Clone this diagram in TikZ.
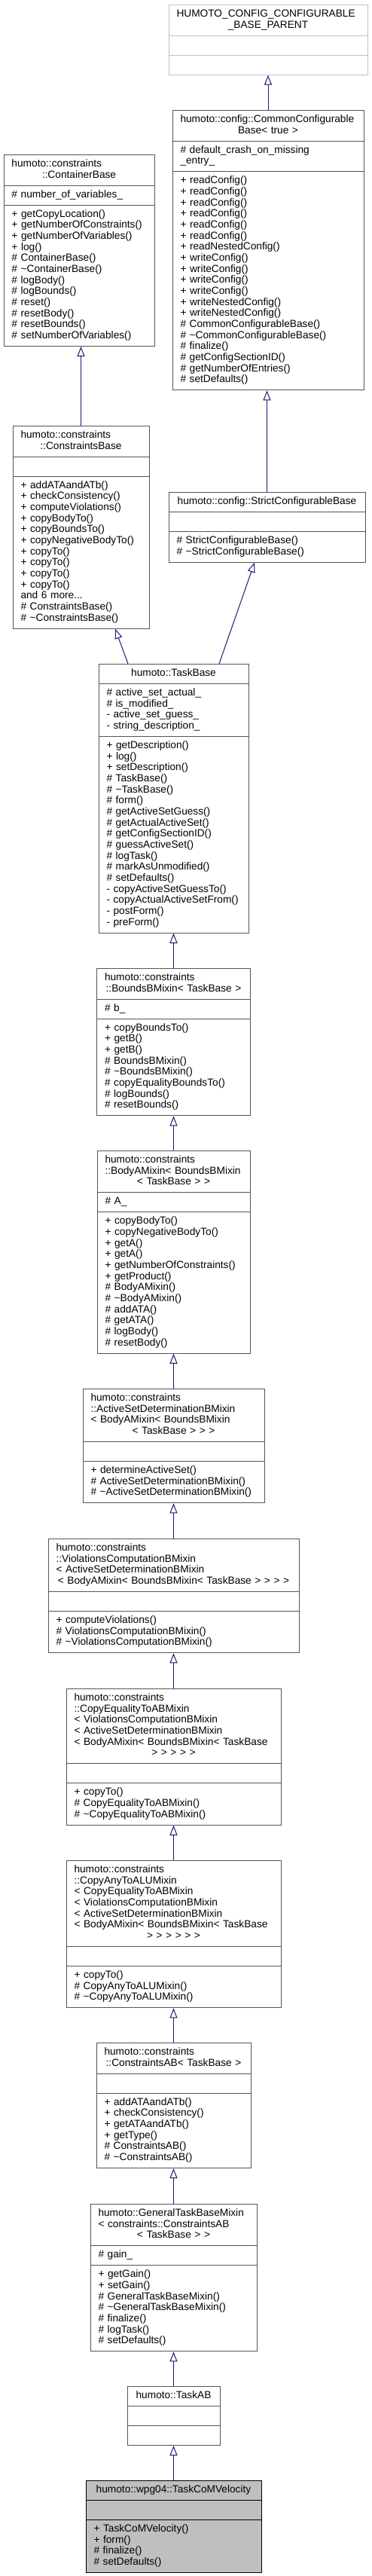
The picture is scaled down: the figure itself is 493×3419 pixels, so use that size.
\documentclass[tikz,border=0pt]{standalone}
\usepackage{fontspec}
\setmainfont{Liberation Sans}
\usepackage{tikz}
\usetikzlibrary{arrows.meta,shapes.multipart}
\usepackage{xcolor}
\definecolor{edgeblue}{HTML}{191970}
\definecolor{boxgray}{HTML}{555555}
\definecolor{extgray}{HTML}{BFBFBF}
\definecolor{curfill}{HTML}{BFBFBF}
\newcommand{\umlfont}{\fontsize{13.7}{14.67}\selectfont}
\newcommand{\ctrline}[1]{\makebox[\linewidth]{#1}}
\tikzset{
    classnode/.style={rectangle split, rectangle split parts=3, draw=boxgray, fill=white, line width=1pt, anchor=north, align=left, font=\umlfont, inner xsep=10.5pt, inner ysep=5.17pt, execute at begin node={\rightskip=-8pt plus 1fil\relax\strut}, execute at end node={\strut}},
    extnode/.style={classnode, draw=extgray},
    curnode/.style={classnode, draw=black, fill=curfill},
    inheritarrow/.style={-{Triangle[open, length=13pt, width=10pt]}, draw=edgeblue, line width=1pt}
}

\begin{document}
\begin{tikzpicture}[x=1pt, y=-1pt]
    \useasboundingbox[fill=white] (0,0) rectangle (493,3419);

    % base classes on top
    \node[extnode, text width=243pt] (humotoparent) at (356,6) {HUMOTO\_CONFIG\_CONFIGURABLE\\\ctrline{\_BASE\_PARENT} \nodepart{two} \nodepart{three}};
    \node[classnode, text width=233pt] (commonbase) at (356,146) {humoto::config::CommonConfigurable\\\ctrline{Base< true >}
        \nodepart{two}\# default\_crash\_on\_missing\\\_entry\_
        \nodepart{three}+ readConfig()\\+ readConfig()\\+ readConfig()\\+ readConfig()\\+ readConfig()\\+ readConfig()\\+ readNestedConfig()\\+ writeConfig()\\+ writeConfig()\\+ writeConfig()\\+ writeConfig()\\+ writeNestedConfig()\\+ writeNestedConfig()\\\# CommonConfigurableBase()\\\# \textasciitilde CommonConfigurableBase()\\\# finalize()\\\# getConfigSectionID()\\\# getNumberOfEntries()\\\# setDefaults()};
    \node[classnode, text width=179pt] (containerbase) at (105,205) {humoto::constraints\\\ctrline{::ContainerBase}
        \nodepart{two}\# number\_of\_variables\_
        \nodepart{three}+ getCopyLocation()\\+ getNumberOfConstraints()\\+ getNumberOfVariables()\\+ log()\\\# ContainerBase()\\\# \textasciitilde ContainerBase()\\\# logBody()\\\# logBounds()\\\# reset()\\\# resetBody()\\\# resetBounds()\\\# setNumberOfVariables()};
    \node[classnode, text width=160pt] (constraintsbase) at (107.5,565) {humoto::constraints\\\ctrline{::ConstraintsBase}
        \nodepart{two}
        \nodepart{three}+ addATAandATb()\\+ checkConsistency()\\+ computeViolations()\\+ copyBodyTo()\\+ copyBoundsTo()\\+ copyNegativeBodyTo()\\+ copyTo()\\+ copyTo()\\+ copyTo()\\+ copyTo()\\and 6 more...\\\# ConstraintsBase()\\\# \textasciitilde ConstraintsBase()};
    \node[classnode, text width=240pt] (strictbase) at (354.5,653) {\ctrline{humoto::config::StrictConfigurableBase}
        \nodepart{two}
        \nodepart{three}\# StrictConfigurableBase()\\\# \textasciitilde StrictConfigurableBase()};

    % the chain down to the class
    \node[classnode, text width=178pt] (taskbase) at (230.5,881) {\ctrline{humoto::TaskBase}
        \nodepart{two}\# active\_set\_actual\_\\\# is\_modified\_\\- active\_set\_guess\_\\- string\_description\_
        \nodepart{three}+ getDescription()\\+ log()\\+ setDescription()\\\# TaskBase()\\\# \textasciitilde TaskBase()\\\# form()\\\# getActiveSetGuess()\\\# getActualActiveSet()\\\# getConfigSectionID()\\\# guessActiveSet()\\\# logTask()\\\# markAsUnmodified()\\\# setDefaults()\\- copyActiveSetGuessTo()\\- copyActualActiveSetFrom()\\- postForm()\\- preForm()};
    \node[classnode, text width=183pt] (boundsb) at (230.5,1285) {humoto::constraints\\\ctrline{::BoundsBMixin< TaskBase >}
        \nodepart{two}\# b\_
        \nodepart{three}+ copyBoundsTo()\\+ getB()\\+ getB()\\\# BoundsBMixin()\\\# \textasciitilde BoundsBMixin()\\\# copyEqualityBoundsTo()\\\# logBounds()\\\# resetBounds()};
    \node[classnode, text width=182pt] (bodya) at (230.5,1527) {humoto::constraints\\::BodyAMixin< BoundsBMixin\\\ctrline{< TaskBase > >}
        \nodepart{two}\# A\_
        \nodepart{three}+ copyBodyTo()\\+ copyNegativeBodyTo()\\+ getA()\\+ getA()\\+ getNumberOfConstraints()\\+ getProduct()\\\# BodyAMixin()\\\# \textasciitilde BodyAMixin()\\\# addATA()\\\# getATA()\\\# logBody()\\\# resetBody()};
    \node[classnode, text width=220pt] (activeset) at (230.5,1843) {humoto::constraints\\::ActiveSetDeterminationBMixin\\< BodyAMixin< BoundsBMixin\\\ctrline{< TaskBase > > >}
        \nodepart{two}
        \nodepart{three}+ determineActiveSet()\\\# ActiveSetDeterminationBMixin()\\\# \textasciitilde ActiveSetDeterminationBMixin()};
    \node[classnode, text width=312pt] (violations) at (230.5,2042) {humoto::constraints\\::ViolationsComputationBMixin\\< ActiveSetDeterminationBMixin\\\ctrline{< BodyAMixin< BoundsBMixin< TaskBase > > > >}
        \nodepart{two}
        \nodepart{three}+ computeViolations()\\\# ViolationsComputationBMixin()\\\# \textasciitilde ViolationsComputationBMixin()};
    \node[classnode, text width=264pt] (copyequality) at (230.5,2241) {humoto::constraints\\::CopyEqualityToABMixin\\< ViolationsComputationBMixin\\< ActiveSetDeterminationBMixin\\< BodyAMixin< BoundsBMixin< TaskBase\\\ctrline{> > > > >}
        \nodepart{two}
        \nodepart{three}+ copyTo()\\\# CopyEqualityToABMixin()\\\# \textasciitilde CopyEqualityToABMixin()};
    \node[classnode, text width=264pt] (copyany) at (230.5,2469) {humoto::constraints\\::CopyAnyToALUMixin\\< CopyEqualityToABMixin\\< ViolationsComputationBMixin\\< ActiveSetDeterminationBMixin\\< BodyAMixin< BoundsBMixin< TaskBase\\\ctrline{> > > > > >}
        \nodepart{two}
        \nodepart{three}+ copyTo()\\\# CopyAnyToALUMixin()\\\# \textasciitilde CopyAnyToALUMixin()};
    \node[classnode, text width=184pt] (constraintsab) at (230.5,2711) {humoto::constraints\\\ctrline{::ConstraintsAB< TaskBase >}
        \nodepart{two}
        \nodepart{three}+ addATAandATb()\\+ checkConsistency()\\+ getATAandATb()\\+ getType()\\\# ConstraintsAB()\\\# \textasciitilde ConstraintsAB()};
    \node[classnode, text width=200pt] (generaltask) at (230.5,2925) {humoto::GeneralTaskBaseMixin\\< constraints::ConstraintsAB\\\ctrline{< TaskBase > >}
        \nodepart{two}\# gain\_
        \nodepart{three}+ getGain()\\+ setGain()\\\# GeneralTaskBaseMixin()\\\# \textasciitilde GeneralTaskBaseMixin()\\\# finalize()\\\# logTask()\\\# setDefaults()};
    \node[classnode, text width=102pt] (taskab) at (230.5,3167) {\ctrline{humoto::TaskAB} \nodepart{two} \nodepart{three}};
    \node[curnode, text width=212pt] (taskcom) at (230.5,3292) {\ctrline{humoto::wpg04::TaskCoMVelocity}
        \nodepart{two}
        \nodepart{three}+ TaskCoMVelocity()\\+ form()\\\# finalize()\\\# setDefaults()};

    % inheritance
    \draw[inheritarrow] (commonbase.north) -- (humotoparent.south);
    \draw[inheritarrow] (strictbase.north) -- (strictbase.north |- commonbase.south);
    \draw[inheritarrow] (constraintsbase.north) -- (constraintsbase.north |- containerbase.south);
    \draw[inheritarrow] ([xshift=-60.5pt]taskbase.north) -- ([xshift=45.5pt]constraintsbase.south);
    \draw[inheritarrow] ([xshift=60.5pt]taskbase.north) -- ([xshift=-16.5pt]strictbase.south);
    \draw[inheritarrow] (boundsb.north) -- (taskbase.south);
    \draw[inheritarrow] (bodya.north) -- (boundsb.south);
    \draw[inheritarrow] (activeset.north) -- (bodya.south);
    \draw[inheritarrow] (violations.north) -- (activeset.south);
    \draw[inheritarrow] (copyequality.north) -- (violations.south);
    \draw[inheritarrow] (copyany.north) -- (copyequality.south);
    \draw[inheritarrow] (constraintsab.north) -- (copyany.south);
    \draw[inheritarrow] (generaltask.north) -- (constraintsab.south);
    \draw[inheritarrow] (taskab.north) -- (generaltask.south);
    \draw[inheritarrow] (taskcom.north) -- (taskab.south);
\end{tikzpicture}
\end{document}
